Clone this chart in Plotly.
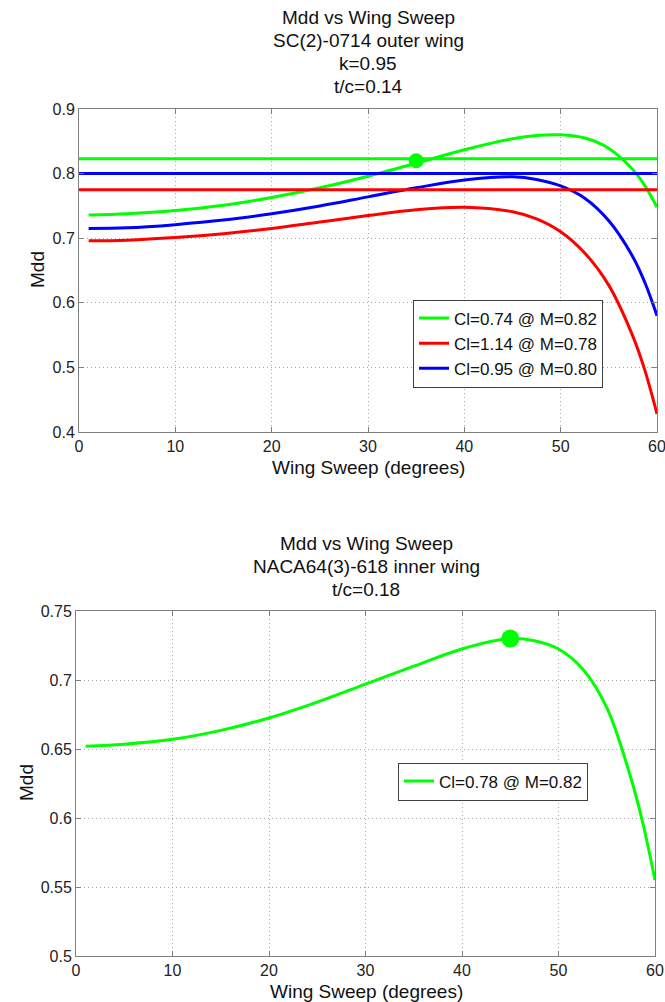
import plotly.graph_objects as go

# Wing sweep angles (degrees)
sweep_outer = [1, 5, 10, 15, 20, 25, 30, 35, 40, 45, 47.5, 50, 52.5, 55, 57.5, 58.75, 60]
sweep_inner = [1, 5, 10, 15, 20, 25, 30, 35, 40, 45, 47.5, 50, 52.5, 55, 57.5, 58.75, 60]

# SC(2)-0714 outer wing, drag-divergence Mach number per lift coefficient
mdd_cl074 = [0.736, 0.738, 0.743, 0.751, 0.763, 0.778, 0.796, 0.816, 0.837, 0.854,
             0.859, 0.860, 0.855, 0.839, 0.806, 0.781, 0.748]
mdd_cl114 = [0.696, 0.697, 0.701, 0.707, 0.715, 0.725, 0.735, 0.744, 0.748, 0.741,
             0.730, 0.710, 0.677, 0.627, 0.548, 0.495, 0.428]
mdd_cl095 = [0.715, 0.716, 0.721, 0.728, 0.738, 0.750, 0.764, 0.778, 0.790, 0.795,
             0.791, 0.781, 0.762, 0.727, 0.671, 0.631, 0.580]

# Target Mach levels drawn as horizontal lines
target_cl074 = 0.823
target_cl114 = 0.775
target_cl095 = 0.800
target_span = [0, 60]

# NACA64(3)-618 inner wing
mdd_inner_cl078 = [0.652, 0.6535, 0.657, 0.6635, 0.6725, 0.684, 0.697, 0.710, 0.7225, 0.730,
                   0.7285, 0.7225, 0.708, 0.680, 0.629, 0.596, 0.555]

# Selected design points
design_outer = (35, 0.82)
design_inner = (45, 0.73)

labels_outer = ["Cl=0.74 @ M=0.82", "Cl=1.14 @ M=0.78", "Cl=0.95 @ M=0.80"]
label_inner = "Cl=0.78 @ M=0.82"

outer_yticks = [0.4, 0.5, 0.6, 0.7, 0.8, 0.9]
outer_ylabels = ["0.4", "0.5", "0.6", "0.7", "0.8", "0.9"]
inner_yticks = [0.5, 0.55, 0.6, 0.65, 0.7, 0.75]
inner_ylabels = ["0.5", "0.55", "0.6", "0.65", "0.7", "0.75"]
sweep_ticks = [0, 10, 20, 30, 40, 50, 60]

GREEN, RED, BLUE = "#00ff00", "#ff0000", "#0000ff"
FONT = "Liberation Sans, Arial, sans-serif"
W, H = 665, 1002

fig = go.Figure()

# Upper panel
for vals, col, name in [(mdd_cl074, GREEN, labels_outer[0]),
                        (mdd_cl114, RED, labels_outer[1]),
                        (mdd_cl095, BLUE, labels_outer[2])]:
    fig.add_trace(go.Scatter(x=sweep_outer, y=vals, mode="lines", name=name,
                             line=dict(color=col, width=3, shape="spline"),
                             xaxis="x", yaxis="y", legend="legend"))
for level, col in [(target_cl074, GREEN), (target_cl114, RED), (target_cl095, BLUE)]:
    fig.add_trace(go.Scatter(x=target_span, y=[level, level], mode="lines",
                             line=dict(color=col, width=3), showlegend=False,
                             xaxis="x", yaxis="y"))
fig.add_trace(go.Scatter(x=[design_outer[0]], y=[design_outer[1]], mode="markers",
                         marker=dict(color=GREEN, size=15), showlegend=False,
                         xaxis="x", yaxis="y"))

# Lower panel
fig.add_trace(go.Scatter(x=sweep_inner, y=mdd_inner_cl078, mode="lines", name=label_inner,
                         line=dict(color=GREEN, width=3, shape="spline"),
                         xaxis="x2", yaxis="y2", legend="legend2"))
fig.add_trace(go.Scatter(x=[design_inner[0]], y=[design_inner[1]], mode="markers",
                         marker=dict(color=GREEN, size=18), showlegend=False,
                         xaxis="x2", yaxis="y2"))

axis_style = dict(showline=True, linecolor="#808080", linewidth=1, mirror="ticks",
                  ticks="inside", ticklen=5, tickcolor="#808080", automargin=False,
                  ticklabeloverflow="allow",
                  showgrid=True, gridcolor="#a8a8a8", griddash="1px,3px", gridwidth=1,
                  zeroline=False, tickfont=dict(family=FONT, size=16, color="#222222"))

legend_style = dict(xanchor="left", yanchor="middle", bgcolor="white",
                    bordercolor="#404040", borderwidth=1, itemwidth=30,
                    font=dict(family=FONT, size=17, color="#111111"))

fig.update_layout(
    template="none",
    width=W, height=H,
    margin=dict(l=0, r=0, t=0, b=0),
    paper_bgcolor="white", plot_bgcolor="white",
    font=dict(family=FONT, color="#111111"),
    showlegend=True,
    xaxis=dict(domain=[79 / W, 657 / W], anchor="y", range=[0, 60],
               tickvals=sweep_ticks, **axis_style),
    yaxis=dict(domain=[1 - 432 / H, 1 - 109 / H], anchor="x", range=[0.4, 0.9],
               tickvals=outer_yticks, ticktext=outer_ylabels, **axis_style),
    xaxis2=dict(domain=[76 / W, 655 / W], anchor="y2", range=[0, 60],
                tickvals=sweep_ticks, **axis_style),
    yaxis2=dict(domain=[1 - 956 / H, 1 - 611 / H], anchor="x2", range=[0.5, 0.75],
                tickvals=inner_yticks, ticktext=inner_ylabels, **axis_style),
    legend=dict(x=413 / W, y=1 - 343.5 / H, **legend_style),
    legend2=dict(x=398 / W, y=1 - 781.5 / H, **legend_style),
)

def text_at(txt, px, py, size=19, angle=0):
    fig.add_annotation(text=txt, x=px / W, y=1 - py / H, xref="paper", yref="paper",
                       xanchor="center", yanchor="middle", showarrow=False,
                       textangle=angle, font=dict(family=FONT, size=size, color="#111111"))

# Panel titles
for i, line in enumerate(["Mdd vs Wing Sweep", "SC(2)-0714 outer wing", "k=0.95", "t/c=0.14"]):
    text_at(line, 368, 17.5 + 22.9 * i)
for i, line in enumerate(["Mdd vs Wing Sweep", "NACA64(3)-618 inner wing", "t/c=0.18"]):
    text_at(line, 366, 543.5 + 22.9 * i)

# Axis titles
text_at("Wing Sweep (degrees)", 368, 467)
text_at("Wing Sweep (degrees)", 366, 991)
text_at("Mdd", 37, 270, angle=-90)
text_at("Mdd", 26, 783, angle=-90)

fig.write_html("out.html")
